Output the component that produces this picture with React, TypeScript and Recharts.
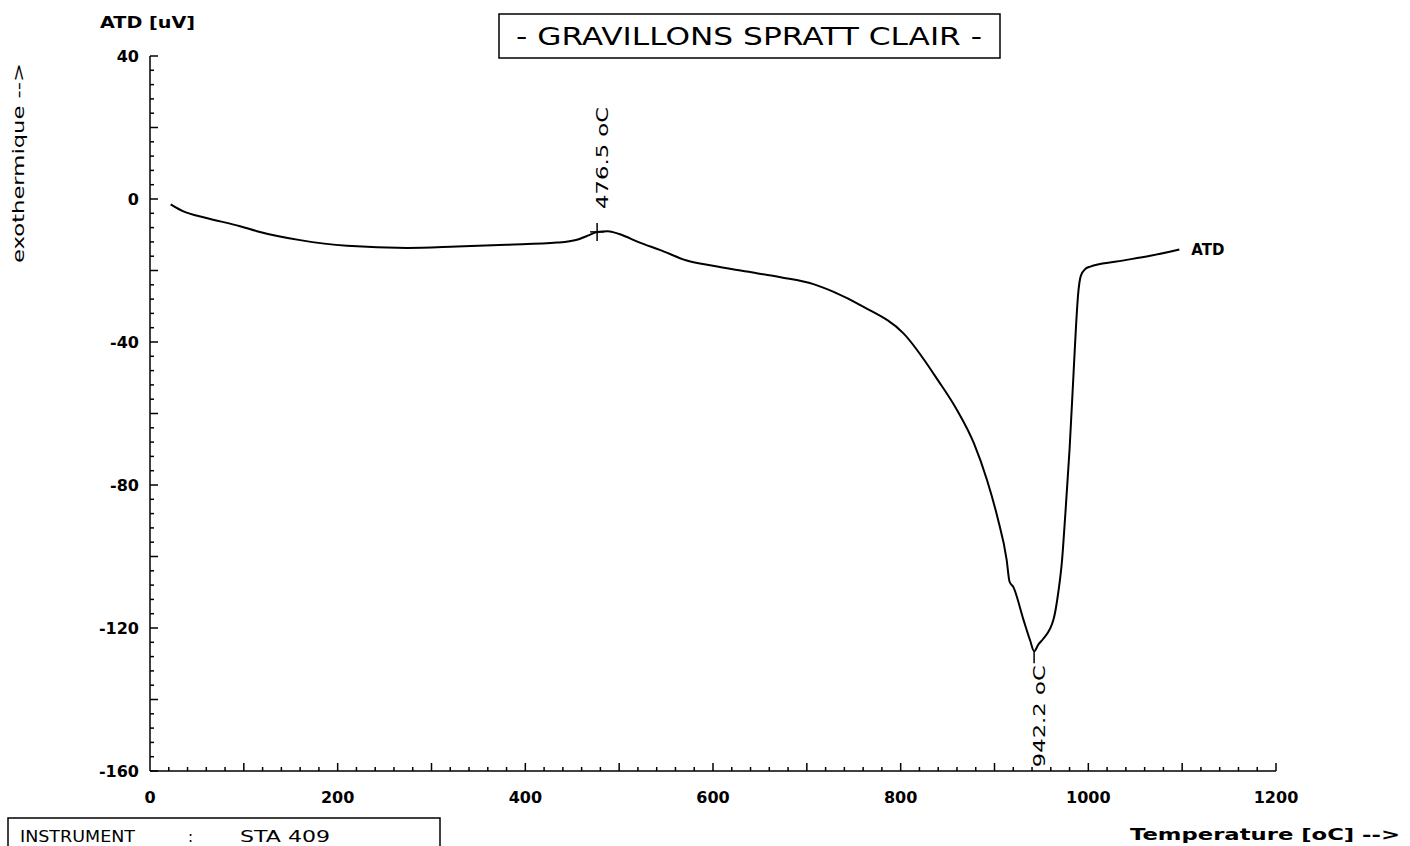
import React from 'react'
import { LineChart, Line, XAxis, YAxis, ReferenceDot } from 'recharts'

// temperature (oC) and ATD signal (uV)
const temps: number[] = [
  22, 35, 60, 96, 114, 160, 210, 274, 327, 380, 434, 455, 468, 476.5, 488, 500, 522, 544, 572,
  600, 636, 672, 707, 728, 760, 803, 840, 860, 878, 892, 903, 913, 916, 920, 931, 938, 942.2,
  947, 952, 963, 968, 972, 975, 980, 984, 987, 989, 992, 997, 1002, 1030, 1066, 1097,
]
const atd: number[] = [
  -1.5, -3.4, -5.3, -7.6, -9.0, -11.5, -13.1, -13.7, -13.3, -12.8, -12.2, -11.4, -10.1, -9.2, -9.0,
  -9.8, -12.2, -14.3, -17.2, -18.7, -20.3, -21.9, -23.8, -25.9, -30.1, -37.6, -50.8, -59, -68.3,
  -78.6, -88.9, -101, -107, -108.5, -117.8, -123.5, -126.5, -124.5, -123, -117.5, -110, -101, -90,
  -70, -50, -35, -27, -21.5, -19.5, -18.9, -17.5, -15.9, -14.1,
]

const peakTemp = 476.5
const peakAtd = -9.2
const dipTemp = 942.2
const dipAtd = -126.5

const xTicks: number[] = Array.from({ length: 61 }, (_, i) => i * 20)
const yTicks: number[] = Array.from({ length: 51 }, (_, i) => -160 + i * 4)

const data = temps.map((t, i) => ({ t, v: atd[i] }))

const numFont = { fontFamily: 'DejaVu Sans', fontWeight: 700, fontSize: 16, fill: '#000' }
const labelFont = { fontFamily: 'DejaVu Sans', fontWeight: 700, fontSize: 15, fill: '#000' }

function XTick(props: any) {
  const { x, y, payload } = props
  const v = payload.value
  const len = v % 100 === 0 ? 8 : 4
  return (
    <g>
      {v !== 0 && <line x1={x} x2={x} y1={y} y2={y - len} stroke="#000" strokeWidth={1.5} />}
      {v % 200 === 0 && (
        <text x={x} y={y + 32} textAnchor="middle" {...numFont}>
          {v}
        </text>
      )}
    </g>
  )
}

function YTick(props: any) {
  const { x, y, payload } = props
  const v = payload.value
  const len = v % 20 === 0 ? 8 : 4
  return (
    <g>
      <line x1={x} x2={x + len} y1={y} y2={y} stroke="#000" strokeWidth={1.5} />
      {v % 40 === 0 && (
        <text x={x - 11} y={y + 6} textAnchor="end" {...numFont}>
          {v}
        </text>
      )}
    </g>
  )
}

function PeakMark(props: any) {
  const { cx, cy } = props
  return (
    <g>
      <line x1={cx} x2={cx} y1={cy - 9} y2={cy + 9} stroke="#000" strokeWidth={1.5} />
      <line x1={cx - 7} x2={cx + 7} y1={cy} y2={cy} stroke="#000" strokeWidth={1.5} />
      <text
        x={cx + 11}
        y={cy - 23}
        transform={`rotate(-90 ${cx + 11} ${cy - 23})`}
        textLength={102}
        lengthAdjust="spacingAndGlyphs"
        {...labelFont}
        fontWeight={400}
      >
        {peakTemp} oC
      </text>
    </g>
  )
}

function DipMark(props: any) {
  const { cx, cy } = props
  return (
    <g>
      <line x1={cx} x2={cx} y1={cy} y2={cy + 12} stroke="#000" strokeWidth={1.5} />
      <text
        x={cx + 11}
        y={cy + 14}
        transform={`rotate(-90 ${cx + 11} ${cy + 14})`}
        textAnchor="end"
        textLength={102}
        lengthAdjust="spacingAndGlyphs"
        {...labelFont}
        fontWeight={400}
      >
        {dipTemp} oC
      </text>
    </g>
  )
}

export default function App() {
  const last = data[data.length - 1]
  return (
    <div style={{ position: 'absolute', left: 0, top: 0, width: 1410, height: 846, background: '#fff' }}>
      <LineChart
        width={1410}
        height={846}
        data={data}
        margin={{ top: 56, right: 134, bottom: 35, left: 90 }}
      >
        <XAxis
          dataKey="t"
          type="number"
          domain={[0, 1200]}
          ticks={xTicks}
          interval={0}
          tickSize={0}
          tickMargin={0}
          height={40}
          axisLine={{ stroke: '#000', strokeWidth: 1.5 }}
          tickLine={false}
          tick={<XTick />}
        />
        <YAxis
          type="number"
          domain={[-160, 40]}
          ticks={yTicks}
          interval={0}
          tickSize={0}
          tickMargin={0}
          width={60}
          axisLine={{ stroke: '#000', strokeWidth: 1.5 }}
          tickLine={false}
          tick={<YTick />}
        />
        <Line
          type="monotone"
          dataKey="v"
          stroke="#000"
          strokeWidth={2}
          dot={false}
          isAnimationActive={false}
        />
        <ReferenceDot x={peakTemp} y={peakAtd} r={0} shape={<PeakMark />} />
        <ReferenceDot x={dipTemp} y={dipAtd} r={0} shape={<DipMark />} />
        <ReferenceDot
          x={last.t}
          y={last.v}
          r={0}
          label={{ value: 'ATD', position: 'right', offset: 12, ...labelFont }}
        />
      </LineChart>
      <svg
        width={1410}
        height={846}
        style={{ position: 'absolute', left: 0, top: 0, pointerEvents: 'none' }}
      >
        <rect x={499} y={14} width={501} height={44} fill="none" stroke="#000" strokeWidth={1.5} />
        <text
          x={516}
          y={45}
          textLength={466}
          lengthAdjust="spacingAndGlyphs"
          fontFamily="DejaVu Sans"
          fontSize={24}
          fill="#000"
        >
          - GRAVILLONS SPRATT CLAIR -
        </text>
        <text x={100} y={28} textLength={95} lengthAdjust="spacingAndGlyphs" {...labelFont}>
          ATD  [uV]
        </text>
        <text
          x={24}
          y={163}
          transform="rotate(-90 24 163)"
          textAnchor="middle"
          textLength={200}
          lengthAdjust="spacingAndGlyphs"
          {...labelFont}
          fontWeight={400}
        >
          exothermique  --&gt;
        </text>
        <text x={1130} y={840} textLength={270} lengthAdjust="spacingAndGlyphs" {...labelFont}>
          Temperature  [oC]  --&gt;
        </text>
        <rect x={8} y={818} width={432} height={40} fill="none" stroke="#000" strokeWidth={1.5} />
        <text x={20} y={842} textLength={115} lengthAdjust="spacingAndGlyphs" {...labelFont} fontWeight={400}>
          INSTRUMENT
        </text>
        <text x={188} y={842} {...labelFont} fontWeight={400}>
          :
        </text>
        <text x={240} y={842} textLength={90} lengthAdjust="spacingAndGlyphs" {...labelFont} fontWeight={400}>
          STA 409
        </text>
      </svg>
    </div>
  )
}
